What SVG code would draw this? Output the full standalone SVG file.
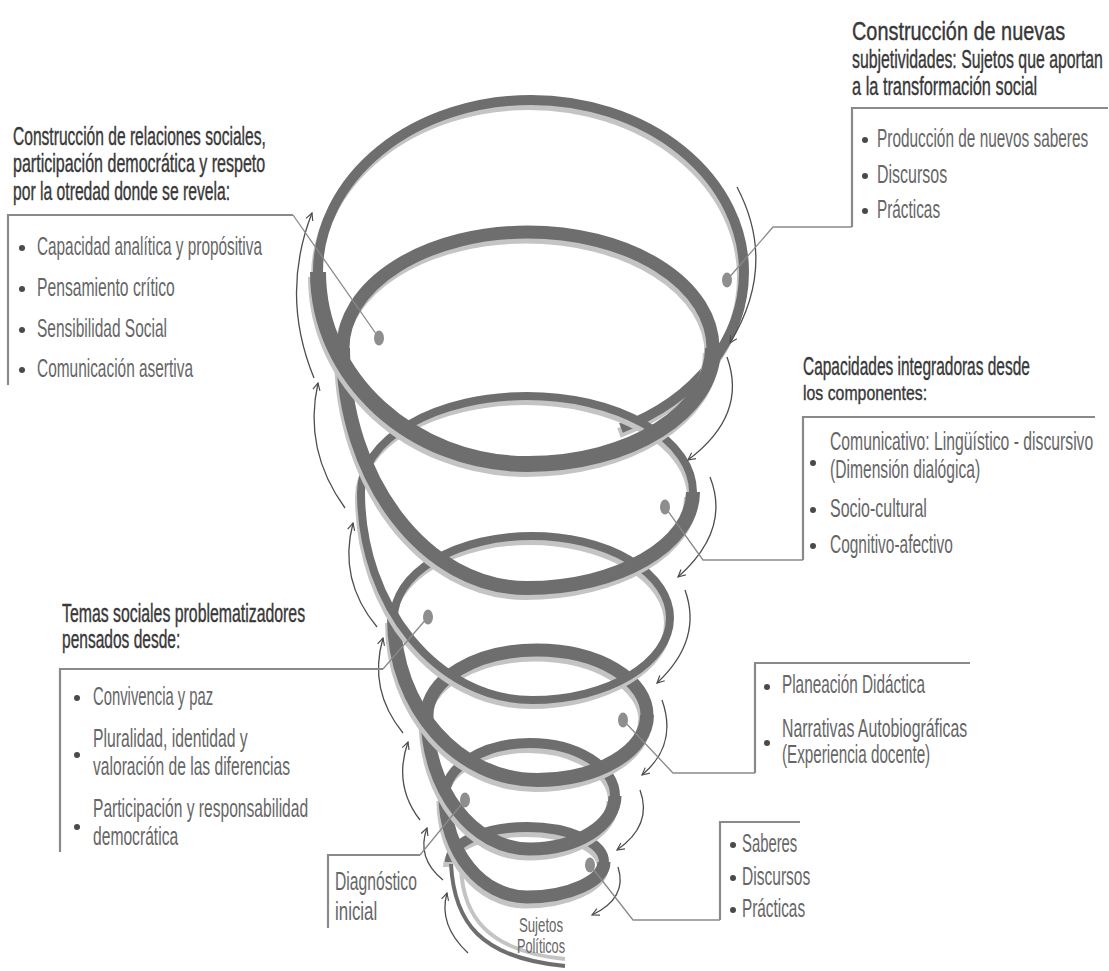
<svg xmlns="http://www.w3.org/2000/svg" width="1109" height="971" viewBox="0 0 1109 971">
<defs>
<style>
text{font-family:"Liberation Sans Narrow","Liberation Sans",Arial,sans-serif;}
.hd{font-size:25px;fill:#383838;stroke:#383838;stroke-width:0.4;}
.it{font-size:25px;fill:#666666;}
.sm{font-size:20px;fill:#666666;}
.box{stroke:#8a8a8a;stroke-width:2.2;fill:none;}
.lead{stroke:#8a8a8a;stroke-width:1.3;fill:none;}
.arr{stroke:#4d4d4d;stroke-width:1.3;fill:none;marker-end:url(#ah);}
.dk{stroke:#6e6e6e;fill:none;}
.lt{stroke:#c4c4c4;fill:none;}
.dot{fill:#8e8e8e;}
.bl{fill:#4a4a4a;}
</style>
<marker id="ah" viewBox="0 0 10 10" refX="9" refY="5" markerWidth="9" markerHeight="9" markerUnits="userSpaceOnUse" orient="auto">
<path d="M1,1 L9,5 L1,9" fill="none" stroke="#4d4d4d" stroke-width="1.3"/>
</marker>
</defs>
<rect width="1109" height="971" fill="#ffffff"/>

<g id="spiral">
  <g id="back">
    <path class="lt" transform="translate(-2,5)" stroke-width="10" d="M621,428 A213,172 0 0 0 744,272 A213,172 0 0 0 318,272"/>
    <path class="dk" stroke-width="10" d="M621,428 A213,172 0 0 0 744,272 A213,172 0 0 0 318,272"/>
    <path class="lt" transform="translate(-2,5)" stroke-width="13" d="M713,348 A185,116 0 0 0 343,348"/>
    <path class="dk" stroke-width="13" d="M713,348 A185,116 0 0 0 343,348"/>
    <path class="lt" transform="translate(-2,5)" stroke-width="8" d="M693,492 A166,96 0 0 0 361,492"/>
    <path class="dk" stroke-width="8" d="M693,492 A166,96 0 0 0 361,492"/>
    <path class="lt" transform="translate(-2,5)" stroke-width="8" d="M670,618 A138,82 0 0 0 394,618"/>
    <path class="dk" stroke-width="8" d="M670,618 A138,82 0 0 0 394,618"/>
    <path class="lt" transform="translate(-2,5)" stroke-width="13" d="M647,715 A110,65 0 0 0 427,715"/>
    <path class="dk" stroke-width="13" d="M647,715 A110,65 0 0 0 427,715"/>
    <path class="lt" transform="translate(-2,5)" stroke-width="10" d="M615,796 A85,53 0 0 0 445,796"/>
    <path class="dk" stroke-width="10" d="M615,796 A85,53 0 0 0 445,796"/>
    <path class="lt" transform="translate(-2,5)" stroke-width="10" d="M604,862 A77,35 0 0 0 450,862"/>
    <path class="dk" stroke-width="10" d="M604,862 A77,35 0 0 0 450,862"/>
  </g>
  <g id="tail">
    <path class="lt" stroke-width="4" d="M461,868 C463,915 486,951 565,959"/>
    <path class="dk" stroke-width="4" d="M451,864 C454,922 480,958 565,966"/>
  </g>
  <g id="front">
    <path class="lt" transform="translate(-2,5)" stroke-width="13" d="M445,796 C445,852 482,897 527,897 C569,897 604,881 604,862"/>
    <path class="dk" stroke-width="13" d="M445,796 C445,852 482,897 527,897 C569,897 604,881 604,862"/>
    <path class="lt" transform="translate(-2,5)" stroke-width="13" d="M427,715 C427,789 473,849 530,849 C577,849 615,825 615,796"/>
    <path class="dk" stroke-width="13" d="M427,715 C427,789 473,849 530,849 C577,849 615,825 615,796"/>
    <path class="lt" transform="translate(-2,5)" stroke-width="14" d="M394,618 C394,707 458,780 537,780 C598,780 647,751 647,715"/>
    <path class="dk" stroke-width="14" d="M394,618 C394,707 458,780 537,780 C598,780 647,751 647,715"/>
    <path class="lt" transform="translate(-2,5)" stroke-width="8" d="M361,492 C361,606 438,700 532,700 C608,700 670,663 670,618"/>
    <path class="dk" stroke-width="8" d="M361,492 C361,606 438,700 532,700 C608,700 670,663 670,618"/>
    <path class="lt" transform="translate(-2,5)" stroke-width="14" d="M343,348 C343,480 426,588 527,588 C618,588 693,545 693,492"/>
    <path class="dk" stroke-width="14" d="M343,348 C343,480 426,588 527,588 C618,588 693,545 693,492"/>
    <path class="lt" transform="translate(-2,5)" stroke-width="16" d="M318,272 C318,378 412,464 528,464 C630,464 713,412 713,348"/>
    <path class="dk" stroke-width="16" d="M318,272 C318,378 412,464 528,464 C630,464 713,412 713,348"/>
  </g>
</g>

<g id="arrows">
  <path class="arr" d="M314,378 Q280,295 312,213"/>
  <path class="arr" d="M345,508 Q303,450 318,383"/>
  <path class="arr" d="M377,627 Q338,580 353,523"/>
  <path class="arr" d="M403,733 Q368,690 383,638"/>
  <path class="arr" d="M420,820 Q393,785 408,742"/>
  <path class="arr" d="M443,880 Q416,858 427,828"/>
  <path class="arr" d="M468,953 Q438,925 447,893"/>
  <path class="arr" d="M737,187 Q778,265 730,343"/>
  <path class="arr" d="M727,357 Q748,415 688,460"/>
  <path class="arr" d="M710,477 Q731,530 678,577"/>
  <path class="arr" d="M685,590 Q703,640 657,683"/>
  <path class="arr" d="M662,700 Q678,745 642,775"/>
  <path class="arr" d="M640,790 Q653,825 617,850"/>
  <path class="arr" d="M618,867 Q628,898 592,915"/>
</g>

<g id="connectors">
  <polyline class="lead" points="379,338 293,215"/>
  <polyline class="lead" points="727,280 773,227 852,227"/>
  <polyline class="lead" points="665,507 703,560 803,560"/>
  <polyline class="lead" points="428,617 383,669"/>
  <polyline class="lead" points="623,720 673,773 755,773"/>
  <polyline class="lead" points="465,800 420,855"/>
  <polyline class="lead" points="590,865 633,920 720,920"/>
</g>

<g id="dots">
  <ellipse class="dot" cx="379" cy="338" rx="5" ry="7.5"/>
  <ellipse class="dot" cx="727" cy="280" rx="5" ry="7.5"/>
  <ellipse class="dot" cx="665" cy="507" rx="5" ry="7.5"/>
  <ellipse class="dot" cx="428" cy="617" rx="5" ry="7.5"/>
  <ellipse class="dot" cx="623" cy="720" rx="5" ry="7.5"/>
  <ellipse class="dot" cx="465" cy="800" rx="5" ry="7.5"/>
  <ellipse class="dot" cx="590" cy="865" rx="5" ry="7.5"/>
</g>

<g id="node-relaciones">
  <path class="box" d="M293,215 L8,215 L8,385"/>
  <text class="hd" transform="translate(13,145) scale(0.65,1)" textLength="389" lengthAdjust="spacingAndGlyphs">Construcción de relaciones sociales,</text>
  <text class="hd" transform="translate(13,172) scale(0.65,1)" textLength="388" lengthAdjust="spacingAndGlyphs">participación democrática y respeto</text>
  <text class="hd" transform="translate(13,200) scale(0.65,1)" textLength="334" lengthAdjust="spacingAndGlyphs">por la otredad donde se revela:</text>
  <circle class="bl" cx="22" cy="248" r="3"/>
  <text class="it" transform="translate(37,255) scale(0.65,1)" textLength="346" lengthAdjust="spacingAndGlyphs">Capacidad analítica y propósitiva</text>
  <circle class="bl" cx="22" cy="289" r="3"/>
  <text class="it" transform="translate(37,296) scale(0.65,1)" textLength="212" lengthAdjust="spacingAndGlyphs">Pensamiento crítico</text>
  <circle class="bl" cx="22" cy="330" r="3"/>
  <text class="it" transform="translate(37,337) scale(0.65,1)" textLength="200" lengthAdjust="spacingAndGlyphs">Sensibilidad Social</text>
  <circle class="bl" cx="22" cy="370" r="3"/>
  <text class="it" transform="translate(37,377) scale(0.65,1)" textLength="240" lengthAdjust="spacingAndGlyphs">Comunicación asertiva</text>
</g>

<g id="node-subjetividades">
  <path class="box" d="M852,227 L852,108 L1108,108"/>
  <text class="hd" transform="translate(852,40) scale(0.65,1)" textLength="328" lengthAdjust="spacingAndGlyphs">Construcción de nuevas</text>
  <text class="hd" transform="translate(852,68) scale(0.65,1)" textLength="386" lengthAdjust="spacingAndGlyphs">subjetividades: Sujetos que aportan</text>
  <text class="hd" transform="translate(852,95) scale(0.65,1)" textLength="285" lengthAdjust="spacingAndGlyphs">a la transformación social</text>
  <circle class="bl" cx="865" cy="140" r="3"/>
  <text class="it" transform="translate(877,147) scale(0.65,1)" textLength="325" lengthAdjust="spacingAndGlyphs">Producción de nuevos saberes</text>
  <circle class="bl" cx="865" cy="176" r="3"/>
  <text class="it" transform="translate(877,183) scale(0.65,1)" textLength="108" lengthAdjust="spacingAndGlyphs">Discursos</text>
  <circle class="bl" cx="865" cy="211" r="3"/>
  <text class="it" transform="translate(877,218) scale(0.65,1)" textLength="97" lengthAdjust="spacingAndGlyphs">Prácticas</text>
</g>

<g id="node-capacidades">
  <path class="box" d="M803,560 L803,417 L1095,417"/>
  <text class="hd" transform="translate(803,375) scale(0.65,1)" textLength="349" lengthAdjust="spacingAndGlyphs">Capacidades integradoras desde</text>
  <text class="hd" transform="translate(803,400) scale(0.65,1)" style="font-size:21px" textLength="191" lengthAdjust="spacingAndGlyphs">los componentes:</text>
  <circle class="bl" cx="813" cy="463" r="3"/>
  <text class="it" transform="translate(830,450) scale(0.65,1)" textLength="405" lengthAdjust="spacingAndGlyphs">Comunicativo: Lingüístico - discursivo</text>
  <text class="it" transform="translate(830,478) scale(0.65,1)" textLength="231" lengthAdjust="spacingAndGlyphs">(Dimensión dialógica)</text>
  <circle class="bl" cx="813" cy="510" r="3"/>
  <text class="it" transform="translate(830,517) scale(0.65,1)" textLength="149" lengthAdjust="spacingAndGlyphs">Socio-cultural</text>
  <circle class="bl" cx="813" cy="546" r="3"/>
  <text class="it" transform="translate(830,553) scale(0.65,1)" textLength="189" lengthAdjust="spacingAndGlyphs">Cognitivo-afectivo</text>
</g>

<g id="node-temas">
  <path class="box" d="M383,669 L60,669 L60,852"/>
  <text class="hd" transform="translate(62,622) scale(0.65,1)" textLength="374" lengthAdjust="spacingAndGlyphs">Temas sociales problematizadores</text>
  <text class="hd" transform="translate(62,648) scale(0.65,1)" textLength="182" lengthAdjust="spacingAndGlyphs">pensados desde:</text>
  <circle class="bl" cx="77" cy="698" r="3"/>
  <text class="it" transform="translate(93,705) scale(0.65,1)" textLength="185" lengthAdjust="spacingAndGlyphs">Convivencia y paz</text>
  <circle class="bl" cx="77" cy="755" r="3"/>
  <text class="it" transform="translate(93,747) scale(0.65,1)" textLength="238" lengthAdjust="spacingAndGlyphs">Pluralidad, identidad y</text>
  <text class="it" transform="translate(93,775) scale(0.65,1)" textLength="303" lengthAdjust="spacingAndGlyphs">valoración de las diferencias</text>
  <circle class="bl" cx="77" cy="827" r="3"/>
  <text class="it" transform="translate(93,817) scale(0.65,1)" textLength="331" lengthAdjust="spacingAndGlyphs">Participación y responsabilidad</text>
  <text class="it" transform="translate(93,845) scale(0.65,1)" textLength="131" lengthAdjust="spacingAndGlyphs">democrática</text>
</g>

<g id="node-planeacion">
  <path class="box" d="M755,773 L755,663 L970,663"/>
  <circle class="bl" cx="767" cy="687" r="3"/>
  <text class="it" transform="translate(782,693) scale(0.65,1)" textLength="220" lengthAdjust="spacingAndGlyphs">Planeación Didáctica</text>
  <circle class="bl" cx="767" cy="743" r="3"/>
  <text class="it" transform="translate(782,737) scale(0.65,1)" textLength="285" lengthAdjust="spacingAndGlyphs">Narrativas Autobiográficas</text>
  <text class="it" transform="translate(782,763) scale(0.65,1)" textLength="228" lengthAdjust="spacingAndGlyphs">(Experiencia docente)</text>
</g>

<g id="node-diagnostico">
  <path class="box" d="M420,855 L328,855 L328,928"/>
  <text class="it" transform="translate(335,890) scale(0.65,1)" textLength="126" lengthAdjust="spacingAndGlyphs">Diagnóstico</text>
  <text class="it" transform="translate(335,920) scale(0.65,1)" textLength="65" lengthAdjust="spacingAndGlyphs">inicial</text>
</g>

<g id="node-saberes">
  <path class="box" d="M720,920 L720,822 L800,822"/>
  <circle class="bl" cx="733" cy="845" r="3"/>
  <text class="it" transform="translate(742,852) scale(0.65,1)" textLength="85" lengthAdjust="spacingAndGlyphs">Saberes</text>
  <circle class="bl" cx="733" cy="878" r="3"/>
  <text class="it" transform="translate(742,885) scale(0.65,1)" textLength="105" lengthAdjust="spacingAndGlyphs">Discursos</text>
  <circle class="bl" cx="733" cy="910" r="3"/>
  <text class="it" transform="translate(742,917) scale(0.65,1)" textLength="97" lengthAdjust="spacingAndGlyphs">Prácticas</text>
</g>

<g id="node-sujetos">
  <text class="sm" transform="translate(541,932) scale(0.65,1)" text-anchor="middle" textLength="68" lengthAdjust="spacingAndGlyphs">Sujetos</text>
  <text class="sm" transform="translate(541,953) scale(0.65,1)" text-anchor="middle" textLength="74" lengthAdjust="spacingAndGlyphs">Políticos</text>
</g>
</svg>
